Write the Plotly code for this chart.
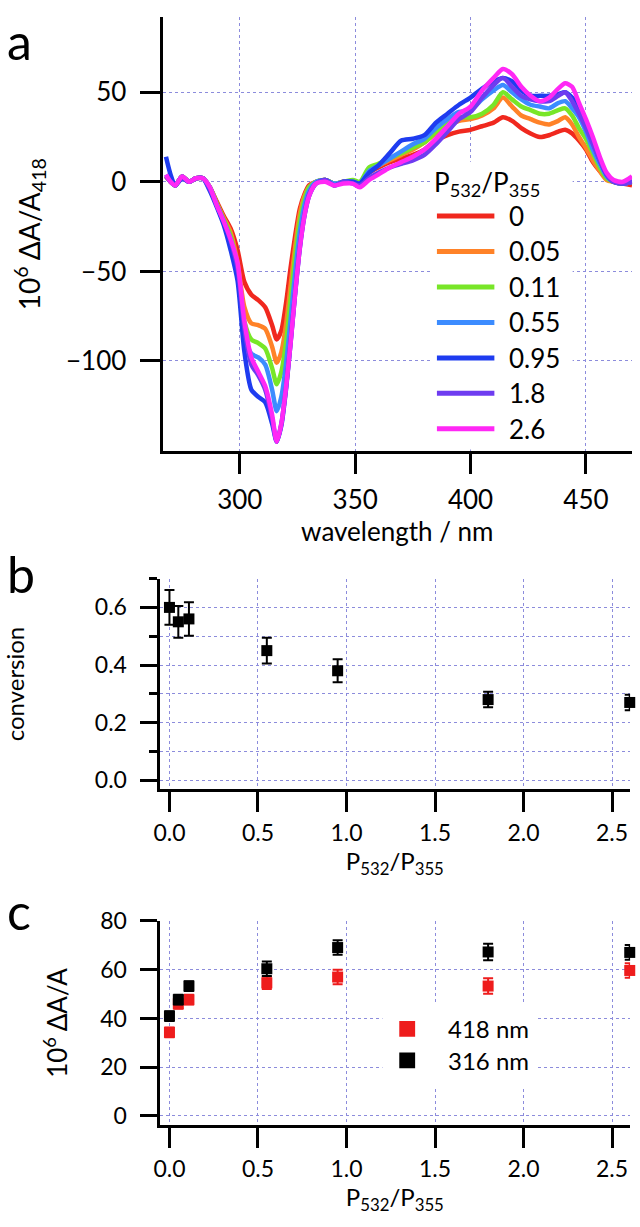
import plotly.graph_objects as go

W, H = 640, 1227
FONT = "Lato"
GRID = "#8c8cdc"

# ---- panel a: transient difference spectra ----
wavelength = [268, 270, 272, 275, 278, 281, 284, 287, 290, 293,
              296, 299, 302, 305, 308, 311, 314, 316, 318, 320,
              322, 324, 326, 328, 330, 333, 337, 341, 345, 349,
              352, 356, 360, 365, 370, 375, 380, 385, 390, 395,
              400, 405, 410, 414, 418, 422, 426, 430, 434, 438,
              441, 444, 447, 450, 453, 456, 459, 462, 466, 470]

ratio_labels = ["0", "0.05", "0.11", "0.55", "0.95", "1.8", "2.6"]
line_colors = ["#f0281e", "#ff8228", "#78e628", "#3c8cff", "#1e3cf0", "#6e3cf0", "#ff28f5"]

dA_r000 = [3, 0, -2, 3, 0, 2, 2, -3, -11, -19,
           -26, -38, -56, -63, -66, -70, -80, -88, -83, -68,
           -48, -30, -15, -7, -2, 0, 1, -1, 0, 0,
           -1, 5, 8, 11, 13, 15, 18, 23, 26, 28,
           29, 31, 33, 36, 34, 30, 27, 25, 26, 28,
           29, 27, 23, 18, 11, 6, 2, 0, -1, -2]
dA_r005 = [3, 0, -2, 3, 0, 2, 2, -3, -12, -20,
           -28, -45, -70, -79, -80, -82, -92, -101, -95, -80,
           -58, -36, -18, -8, -3, 0, 1, -1, 0, 0,
           -1, 6, 9, 12, 15, 18, 22, 27, 31, 34,
           35, 37, 41, 47, 42, 37, 35, 33, 32, 34,
           36, 32, 25, 19, 12, 6, 1, 0, -1, 0]
dA_r011 = [3, 0, -2, 3, 0, 2, 2, -3, -12, -21,
           -30, -48, -78, -88, -90, -93, -104, -113, -106, -90,
           -66, -42, -22, -10, -3, 0, 1, -1, 0, 1,
           0, 8, 10, 13, 16, 19, 22, 28, 33, 36,
           36, 38, 43, 50, 46, 42, 40, 38, 38, 40,
           41, 37, 30, 24, 16, 8, 2, 0, -1, 0]
dA_r055 = [4, 0, -2, 3, 0, 2, 2, -3, -13, -22,
           -32, -50, -85, -96, -98, -102, -116, -128, -120, -102,
           -77, -50, -28, -13, -5, 0, 1, -1, 0, 0,
           -1, 6, 9, 13, 17, 21, 24, 30, 35, 39,
           40, 46, 51, 54, 50, 46, 43, 42, 41, 44,
           45, 41, 36, 28, 18, 10, 3, 0, -1, 0]
dA_r095 = [14, 4, -2, 2, 0, 2, 2, -5, -14, -24,
           -38, -55, -95, -116, -120, -123, -135, -145, -136, -116,
           -90, -62, -37, -19, -8, -1, 1, -2, 0, 0,
           -1, 5, 9, 16, 23, 24, 26, 33, 38, 43,
           47, 52, 56, 58, 56, 51, 48, 48, 48, 49,
           50, 47, 42, 32, 22, 12, 4, 0, -1, 0]
dA_r180 = [3, 0, -2, 3, 0, 2, 2, -4, -13, -22,
           -33, -48, -82, -102, -108, -116, -132, -145, -135, -115,
           -89, -61, -36, -18, -7, -1, 1, -2, 0, -1,
           -2, 2, 5, 8, 10, 12, 15, 21, 28, 35,
           39, 47, 54, 58, 53, 48, 46, 45, 45, 48,
           50, 45, 38, 30, 21, 12, 4, 0, -1, 0]
dA_r260 = [4, 0, -2, 3, 0, 2, 2, -3, -13, -22,
           -32, -45, -78, -98, -106, -114, -130, -145, -135, -115,
           -90, -62, -37, -19, -8, -1, 0, -2, -1, -1,
           -3, 1, 4, 8, 11, 14, 18, 24, 31, 38,
           42, 51, 58, 63, 60, 53, 48, 45, 47, 52,
           55, 53, 44, 35, 25, 14, 5, 1, 0, 3]
spectra = [dA_r000, dA_r005, dA_r011, dA_r055, dA_r095, dA_r180, dA_r260]

# ---- panel b: conversion vs power ratio ----
ratio = [0, 0.05, 0.11, 0.55, 0.95, 1.8, 2.6]
conversion = [0.60, 0.55, 0.56, 0.45, 0.38, 0.28, 0.27]
conversion_err = [0.06, 0.055, 0.058, 0.045, 0.04, 0.027, 0.027]

# ---- panel c: amplitudes at two wavelengths ----
amp_418 = [34.3, 46, 47.7, 54.6, 57.0, 53.3, 59.7]
amp_418_err = [2, 2, 2, 2.5, 3, 3.2, 3]
amp_316 = [41.0, 47.7, 53.3, 60.4, 69.1, 67.3, 67.1]
amp_316_err = [2, 2, 2, 3, 3, 3.4, 3]
series_c = ["418 nm", "316 nm"]
colors_c = ["#ee1c1c", "#000000"]

# axis ranges
RANGE_AX = [266.5, 470]
RANGE_AY = [-150.5, 92]
RANGE_RATIO = [-0.056, 2.602]
RANGE_BY = [-0.032, 0.70]
RANGE_CY = [-3.9, 80.2]

# pixel boxes of the three plot areas (x0, x1, ytop, ybottom)
BOX_A = (158, 632, 3, 444)
BOX_B = (155, 630, 573, 787)
BOX_C = (155, 630, 920, 1128)


def xdom(box):
    return [box[0] / W, box[1] / W]


def ydom(box):
    return [1 - box[3] / H, 1 - box[2] / H]


def to_data(box, xr, yr, px, py):
    x = xr[0] + (px - box[0]) / (box[1] - box[0]) * (xr[1] - xr[0])
    y = yr[0] + (box[3] - py) / (box[3] - box[2]) * (yr[1] - yr[0])
    return x, y


def axis(box_dom, size, ticklen, **kw):
    d = dict(domain=box_dom, showline=True, linecolor="black", linewidth=3,
             ticks="outside", ticklen=ticklen, tickwidth=3, tickcolor="black",
             showgrid=True, gridcolor=GRID, griddash="dot", gridwidth=1,
             zeroline=False, tickfont=dict(family=FONT, size=size, color="black"))
    d.update(kw)
    return d


fig = go.Figure()

for vals, lab, col in zip(spectra, ratio_labels, line_colors):
    fig.add_trace(go.Scatter(x=wavelength, y=vals, mode="lines", name=lab,
                             line=dict(color=col, width=4.5, shape="spline", smoothing=0.7),
                             xaxis="x", yaxis="y", showlegend=False))

fig.add_trace(go.Scatter(x=ratio, y=conversion, mode="markers",
                         marker=dict(symbol="square", size=11, color="black"),
                         error_y=dict(type="data", array=conversion_err, color="black",
                                      thickness=2, width=5),
                         xaxis="x2", yaxis="y2", showlegend=False, cliponaxis=False))

for vals, err, lab, col in zip([amp_418, amp_316], [amp_418_err, amp_316_err], series_c, colors_c):
    fig.add_trace(go.Scatter(x=ratio, y=vals, mode="markers", name=lab,
                             marker=dict(symbol="square", size=11, color=col),
                             error_y=dict(type="data", array=err, color=col,
                                          thickness=2, width=5),
                             xaxis="x3", yaxis="y3", showlegend=False, cliponaxis=False))

ratio_title = "P<sub>532</sub>/P<sub>355</sub>"
tfont = dict(family=FONT, size=26, color="black")

fig.update_layout(
    width=W, height=H, margin=dict(l=0, r=0, t=0, b=0),
    paper_bgcolor="white", plot_bgcolor="white", showlegend=False,
    xaxis=axis(xdom(BOX_A), 26, 20, anchor="y", range=RANGE_AX,
               tickvals=[300, 350, 400, 450], ticklabelstandoff=3,
               title=dict(text="wavelength / nm", font=tfont, standoff=4)),
    yaxis=axis(ydom(BOX_A), 26, 20, anchor="x", range=RANGE_AY,
               tickvals=[-100, -50, 0, 50], ticklabelstandoff=8,
               title=dict(text="10<sup>6</sup> ΔA/A<sub>418</sub>",
                          font=dict(family=FONT, size=28, color="black"), standoff=18)),
    xaxis2=axis(xdom(BOX_B), 23, 20, anchor="y2", range=RANGE_RATIO, tick0=0, dtick=0.5,
                tickformat=".1f", ticklabelstandoff=1,
                title=dict(text=ratio_title, font=dict(family=FONT, size=24, color="black"),
                           standoff=1)),
    yaxis2=axis(ydom(BOX_B), 23, 17, anchor="x2", range=RANGE_BY, tick0=0, dtick=0.2,
                tickformat=".1f", ticklabelstandoff=8,
                minor=dict(dtick=0.1, ticklen=8, tickwidth=3, tickcolor="black",
                           showgrid=True, gridcolor=GRID, griddash="dot", gridwidth=1),
                title=dict(text="conversion", font=dict(family=FONT, size=24, color="black"),
                           standoff=64)),
    xaxis3=axis(xdom(BOX_C), 23, 20, anchor="y3", range=RANGE_RATIO, tick0=0, dtick=0.5,
                tickformat=".1f", ticklabelstandoff=1,
                title=dict(text=ratio_title, font=dict(family=FONT, size=24, color="black"),
                           standoff=1)),
    yaxis3=axis(ydom(BOX_C), 23, 17, anchor="x3", range=RANGE_CY, tick0=0, dtick=20,
                ticklabelstandoff=8,
                title=dict(text="10<sup>6</sup> ΔA/A",
                           font=dict(family=FONT, size=26, color="black"), standoff=26)),
)

shapes = []
annotations = []

# panel letters
for txt, px, py in [("a", 14, 27), ("b", 15, 568), ("c", 13, 910)]:
    annotations.append(dict(text=txt, x=px / W, y=1 - py / H, xref="paper", yref="paper",
                            xanchor="center", yanchor="middle", showarrow=False,
                            font=dict(family=FONT, size=50, color="black")))

# legend of panel a: white box over the grid, line samples and labels
bx0, by0 = to_data(BOX_A, RANGE_AX, RANGE_AY, 430, 442)
bx1, by1 = to_data(BOX_A, RANGE_AX, RANGE_AY, 572, 150)
shapes.append(dict(type="rect", xref="x", yref="y", x0=bx0, x1=bx1, y0=by0, y1=by1,
                   fillcolor="white", line=dict(width=0), layer="between"))
tx, ty = to_data(BOX_A, RANGE_AX, RANGE_AY, 430, 172)
annotations.append(dict(text=ratio_title, x=tx, y=ty, xref="x", yref="y",
                        xanchor="left", yanchor="middle", showarrow=False, font=tfont))
for i, (lab, col) in enumerate(zip(ratio_labels, line_colors)):
    py = 205 + i * 36
    lx0, ly = to_data(BOX_A, RANGE_AX, RANGE_AY, 435, py)
    lx1, _ = to_data(BOX_A, RANGE_AX, RANGE_AY, 493, py)
    shapes.append(dict(type="line", xref="x", yref="y", x0=lx0, x1=lx1,
                       y0=ly, y1=ly, line=dict(color=col, width=5)))
    tx, _ = to_data(BOX_A, RANGE_AX, RANGE_AY, 506, py)
    annotations.append(dict(text=lab, x=tx, y=ly, xref="x", yref="y",
                            xanchor="left", yanchor="middle", showarrow=False, font=tfont))

# legend of panel c
bx0, by0 = to_data(BOX_C, RANGE_RATIO, RANGE_CY, 380, 1088)
bx1, by1 = to_data(BOX_C, RANGE_RATIO, RANGE_CY, 537, 1003)
shapes.append(dict(type="rect", xref="x3", yref="y3", x0=bx0, x1=bx1, y0=by0, y1=by1,
                   fillcolor="white", line=dict(width=0), layer="between"))
for i, (lab, col) in enumerate(zip(series_c, colors_c)):
    py = 1030 + i * 32
    sx0, sy0 = to_data(BOX_C, RANGE_RATIO, RANGE_CY, 397, py + 8)
    sx1, sy1 = to_data(BOX_C, RANGE_RATIO, RANGE_CY, 413, py - 8)
    shapes.append(dict(type="rect", xref="x3", yref="y3", x0=sx0, x1=sx1,
                       y0=sy0, y1=sy1, fillcolor=col, line=dict(width=0)))
    tx, ty = to_data(BOX_C, RANGE_RATIO, RANGE_CY, 444, py)
    annotations.append(dict(text=lab, x=tx, y=ty, xref="x3", yref="y3",
                            xanchor="left", yanchor="middle", showarrow=False,
                            font=dict(family=FONT, size=24, color="black")))

fig.update_layout(shapes=shapes, annotations=annotations)

# drop the default page margin so the figure fills the window exactly
fig.write_html("out.html", config={"displayModeBar": False},
               post_script="document.body.style.margin='0';document.body.style.overflow='hidden';")
